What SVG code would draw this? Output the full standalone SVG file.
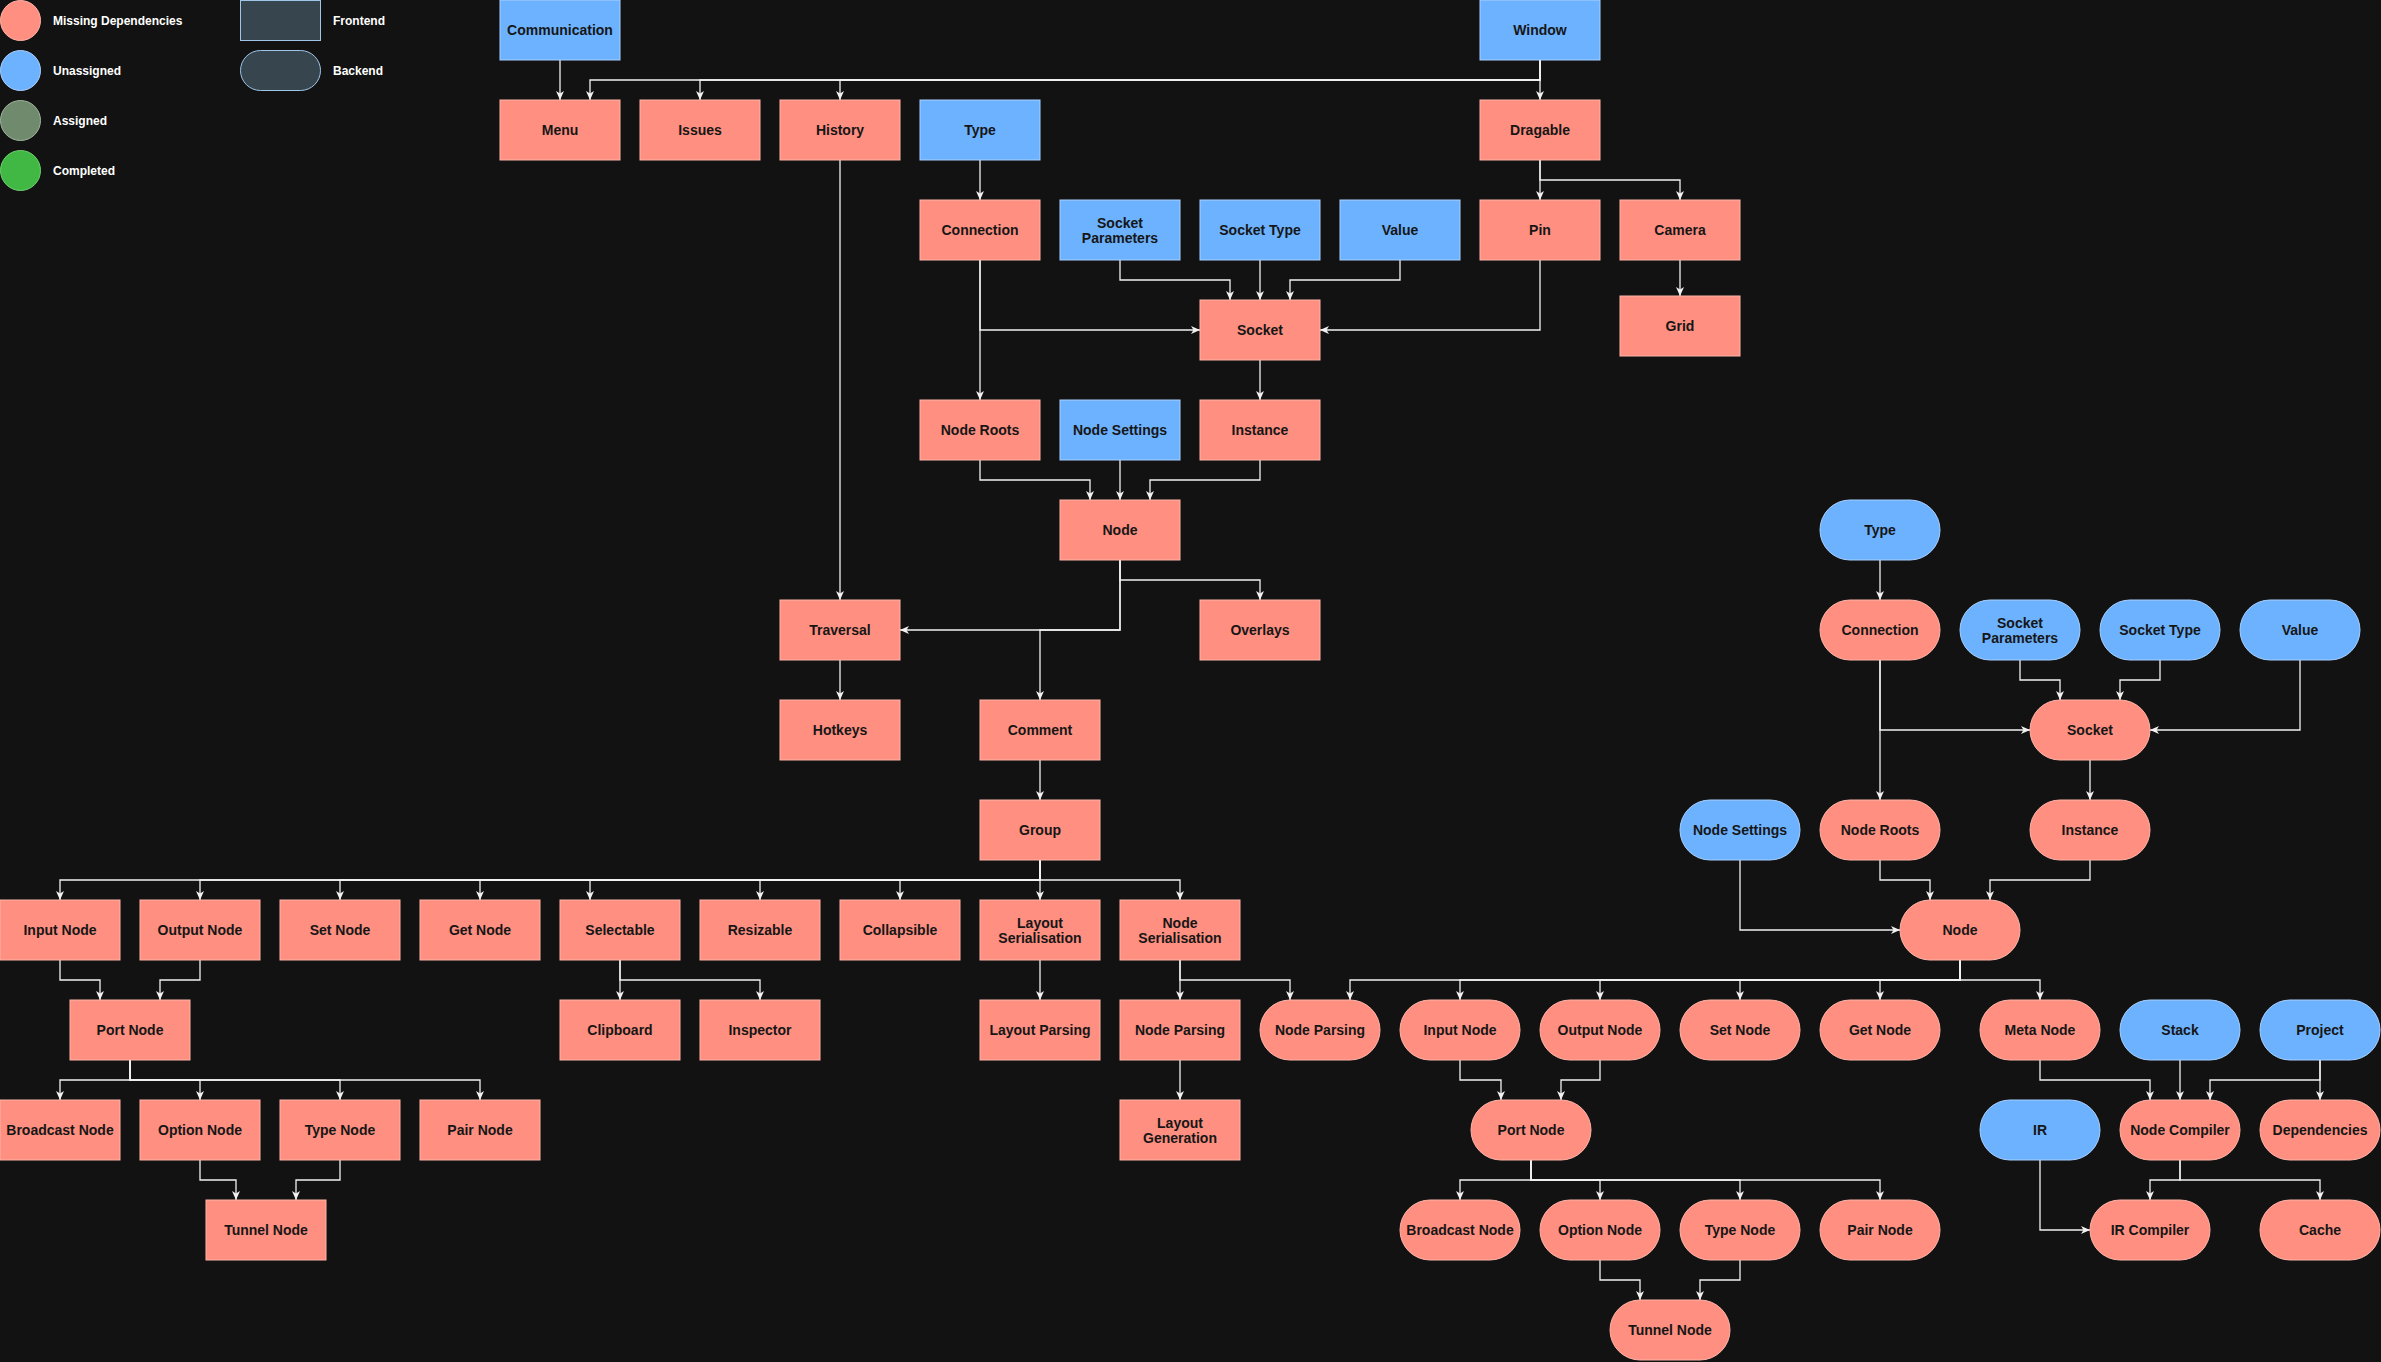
<svg xmlns="http://www.w3.org/2000/svg" width="2381" height="1362" viewBox="0 0 2381 1362">
<defs>
<style>
.bg{fill:#121212}
.m{fill:#ff8f80;stroke:#ffb4a8;stroke-width:1}
.u{fill:#6cb2ff;stroke:#a9d0ff;stroke-width:1}
.a{fill:#6f8a6c;stroke:#9fb59c;stroke-width:1}
.c{fill:#41b843;stroke:#6fd070;stroke-width:1}
.lg{fill:#37454f;stroke:#9fc5e8;stroke-width:1}
text{font-family:"Liberation Sans",Arial,sans-serif;font-weight:bold}
.t{font-size:14px;fill:#161616;text-anchor:middle}
.l{font-size:12px;fill:#ffffff}
.e{fill:none;stroke:#f2f2f2;stroke-width:1.3;marker-end:url(#arr)}
</style>
<marker id="arr" markerUnits="userSpaceOnUse" markerWidth="9" markerHeight="8" viewBox="0 0 9 8" refX="9" refY="4" orient="auto">
<path d="M0,0 L9,4 L0,8 L2.5,4 Z" fill="#f2f2f2"/>
</marker>
</defs>
<rect class="bg" x="0" y="0" width="2381" height="1362"/>

<g id="legend">
<circle class="m" cx="20.5" cy="20.5" r="20"/><text class="l" x="53" y="24.5">Missing Dependencies</text>
<circle class="u" cx="20.5" cy="70.5" r="20"/><text class="l" x="53" y="74.5">Unassigned</text>
<circle class="a" cx="20.5" cy="120.5" r="20"/><text class="l" x="53" y="124.5">Assigned</text>
<circle class="c" cx="20.5" cy="170.5" r="20"/><text class="l" x="53" y="174.5">Completed</text>
<rect class="lg" x="240.5" y="0.5" width="80" height="40"/><text class="l" x="333" y="24.5">Frontend</text>
<rect class="lg" x="240.5" y="50.5" width="80" height="40" rx="20"/><text class="l" x="333" y="74.5">Backend</text>
</g>

<g id="connectors">
<path class="e" d="M560,60 V100"/>
<path class="e" d="M1540,60 V80 H590 V100"/>
<path class="e" d="M1540,60 V80 H700 V100"/>
<path class="e" d="M1540,60 V80 H840 V100"/>
<path class="e" d="M1540,60 V100"/>
<path class="e" d="M980,160 V200"/>
<path class="e" d="M1540,160 V200"/>
<path class="e" d="M1540,160 V180 H1680 V200"/>
<path class="e" d="M1680,260 V296"/>
<path class="e" d="M980,260 V330 H1200"/>
<path class="e" d="M980,260 V400"/>
<path class="e" d="M1120,260 V280 H1230 V300"/>
<path class="e" d="M1260,260 V300"/>
<path class="e" d="M1400,260 V280 H1290 V300"/>
<path class="e" d="M1540,260 V330 H1320"/>
<path class="e" d="M1260,360 V400"/>
<path class="e" d="M980,460 V480 H1090 V500"/>
<path class="e" d="M1120,460 V500"/>
<path class="e" d="M1260,460 V480 H1150 V500"/>
<path class="e" d="M840,160 V600"/>
<path class="e" d="M1120,560 V580 H1260 V600"/>
<path class="e" d="M1120,560 V630 H900"/>
<path class="e" d="M1120,560 V630 H1040 V700"/>
<path class="e" d="M840,660 V700"/>
<path class="e" d="M1040,760 V800"/>
<path class="e" d="M1040,860 V880 H60 V900"/>
<path class="e" d="M1040,860 V880 H200 V900"/>
<path class="e" d="M1040,860 V880 H340 V900"/>
<path class="e" d="M1040,860 V880 H480 V900"/>
<path class="e" d="M1040,860 V880 H590 V900"/>
<path class="e" d="M1040,860 V880 H760 V900"/>
<path class="e" d="M1040,860 V880 H900 V900"/>
<path class="e" d="M1040,860 V900"/>
<path class="e" d="M1040,860 V880 H1180 V900"/>
<path class="e" d="M60,960 V980 H100 V1000"/>
<path class="e" d="M200,960 V980 H160 V1000"/>
<path class="e" d="M620,960 V1000"/>
<path class="e" d="M620,960 V980 H760 V1000"/>
<path class="e" d="M1040,960 V1000"/>
<path class="e" d="M1180,960 V1000"/>
<path class="e" d="M1180,960 V980 H1290 V1000"/>
<path class="e" d="M1180,1060 V1100"/>
<path class="e" d="M130,1060 V1080 H60 V1100"/>
<path class="e" d="M130,1060 V1080 H200 V1100"/>
<path class="e" d="M130,1060 V1080 H340 V1100"/>
<path class="e" d="M130,1060 V1080 H480 V1100"/>
<path class="e" d="M200,1160 V1180 H236 V1200"/>
<path class="e" d="M340,1160 V1180 H296 V1200"/>

<path class="e" d="M1880,560 V600"/>
<path class="e" d="M1880,660 V800"/>
<path class="e" d="M1880,660 V730 H2030"/>
<path class="e" d="M2020,660 V680 H2060 V700"/>
<path class="e" d="M2160,660 V680 H2120 V700"/>
<path class="e" d="M2300,660 V730 H2150"/>
<path class="e" d="M2090,760 V800"/>
<path class="e" d="M1880,860 V880 H1930 V900"/>
<path class="e" d="M2090,860 V880 H1990 V900"/>
<path class="e" d="M1740,860 V930 H1900"/>
<path class="e" d="M1960,960 V980 H1350 V1000"/>
<path class="e" d="M1960,960 V980 H1460 V1000"/>
<path class="e" d="M1960,960 V980 H1600 V1000"/>
<path class="e" d="M1960,960 V980 H1740 V1000"/>
<path class="e" d="M1960,960 V980 H1880 V1000"/>
<path class="e" d="M1960,960 V980 H2040 V1000"/>
<path class="e" d="M1460,1060 V1080 H1501 V1100"/>
<path class="e" d="M1600,1060 V1080 H1561 V1100"/>
<path class="e" d="M1531,1160 V1180 H1460 V1200"/>
<path class="e" d="M1531,1160 V1180 H1600 V1200"/>
<path class="e" d="M1531,1160 V1180 H1740 V1200"/>
<path class="e" d="M1531,1160 V1180 H1880 V1200"/>
<path class="e" d="M1600,1260 V1280 H1640 V1300"/>
<path class="e" d="M1740,1260 V1280 H1700 V1300"/>
<path class="e" d="M2040,1060 V1080 H2150 V1100"/>
<path class="e" d="M2180,1060 V1100"/>
<path class="e" d="M2320,1060 V1080 H2210 V1100"/>
<path class="e" d="M2320,1060 V1100"/>
<path class="e" d="M2040,1160 V1230 H2090"/>
<path class="e" d="M2180,1160 V1180 H2150 V1200"/>
<path class="e" d="M2180,1160 V1180 H2320 V1200"/>
</g>

<g id="fe-communication"><rect class="u" x="500" y="0" width="120" height="60"/><text class="t" x="560" y="35">Communication</text></g>
<g id="fe-window"><rect class="u" x="1480" y="0" width="120" height="60"/><text class="t" x="1540" y="35">Window</text></g>
<g id="fe-menu"><rect class="m" x="500" y="100" width="120" height="60"/><text class="t" x="560" y="135">Menu</text></g>
<g id="fe-issues"><rect class="m" x="640" y="100" width="120" height="60"/><text class="t" x="700" y="135">Issues</text></g>
<g id="fe-history"><rect class="m" x="780" y="100" width="120" height="60"/><text class="t" x="840" y="135">History</text></g>
<g id="fe-type"><rect class="u" x="920" y="100" width="120" height="60"/><text class="t" x="980" y="135">Type</text></g>
<g id="fe-dragable"><rect class="m" x="1480" y="100" width="120" height="60"/><text class="t" x="1540" y="135">Dragable</text></g>
<g id="fe-connection"><rect class="m" x="920" y="200" width="120" height="60"/><text class="t" x="980" y="235">Connection</text></g>
<g id="fe-socket-parameters"><rect class="u" x="1060" y="200" width="120" height="60"/><text class="t" x="1120" y="227.5">Socket</text><text class="t" x="1120" y="242.5">Parameters</text></g>
<g id="fe-socket-type"><rect class="u" x="1200" y="200" width="120" height="60"/><text class="t" x="1260" y="235">Socket Type</text></g>
<g id="fe-value"><rect class="u" x="1340" y="200" width="120" height="60"/><text class="t" x="1400" y="235">Value</text></g>
<g id="fe-pin"><rect class="m" x="1480" y="200" width="120" height="60"/><text class="t" x="1540" y="235">Pin</text></g>
<g id="fe-camera"><rect class="m" x="1620" y="200" width="120" height="60"/><text class="t" x="1680" y="235">Camera</text></g>
<g id="fe-grid"><rect class="m" x="1620" y="296" width="120" height="60"/><text class="t" x="1680" y="331">Grid</text></g>
<g id="fe-socket"><rect class="m" x="1200" y="300" width="120" height="60"/><text class="t" x="1260" y="335">Socket</text></g>
<g id="fe-node-roots"><rect class="m" x="920" y="400" width="120" height="60"/><text class="t" x="980" y="435">Node Roots</text></g>
<g id="fe-node-settings"><rect class="u" x="1060" y="400" width="120" height="60"/><text class="t" x="1120" y="435">Node Settings</text></g>
<g id="fe-instance"><rect class="m" x="1200" y="400" width="120" height="60"/><text class="t" x="1260" y="435">Instance</text></g>
<g id="fe-node"><rect class="m" x="1060" y="500" width="120" height="60"/><text class="t" x="1120" y="535">Node</text></g>
<g id="fe-traversal"><rect class="m" x="780" y="600" width="120" height="60"/><text class="t" x="840" y="635">Traversal</text></g>
<g id="fe-overlays"><rect class="m" x="1200" y="600" width="120" height="60"/><text class="t" x="1260" y="635">Overlays</text></g>
<g id="fe-hotkeys"><rect class="m" x="780" y="700" width="120" height="60"/><text class="t" x="840" y="735">Hotkeys</text></g>
<g id="fe-comment"><rect class="m" x="980" y="700" width="120" height="60"/><text class="t" x="1040" y="735">Comment</text></g>
<g id="fe-group"><rect class="m" x="980" y="800" width="120" height="60"/><text class="t" x="1040" y="835">Group</text></g>
<g id="fe-input-node"><rect class="m" x="0" y="900" width="120" height="60"/><text class="t" x="60" y="935">Input Node</text></g>
<g id="fe-output-node"><rect class="m" x="140" y="900" width="120" height="60"/><text class="t" x="200" y="935">Output Node</text></g>
<g id="fe-set-node"><rect class="m" x="280" y="900" width="120" height="60"/><text class="t" x="340" y="935">Set Node</text></g>
<g id="fe-get-node"><rect class="m" x="420" y="900" width="120" height="60"/><text class="t" x="480" y="935">Get Node</text></g>
<g id="fe-selectable"><rect class="m" x="560" y="900" width="120" height="60"/><text class="t" x="620" y="935">Selectable</text></g>
<g id="fe-resizable"><rect class="m" x="700" y="900" width="120" height="60"/><text class="t" x="760" y="935">Resizable</text></g>
<g id="fe-collapsible"><rect class="m" x="840" y="900" width="120" height="60"/><text class="t" x="900" y="935">Collapsible</text></g>
<g id="fe-layout-serialisation"><rect class="m" x="980" y="900" width="120" height="60"/><text class="t" x="1040" y="927.5">Layout</text><text class="t" x="1040" y="942.5">Serialisation</text></g>
<g id="fe-node-serialisation"><rect class="m" x="1120" y="900" width="120" height="60"/><text class="t" x="1180" y="927.5">Node</text><text class="t" x="1180" y="942.5">Serialisation</text></g>
<g id="fe-port-node"><rect class="m" x="70" y="1000" width="120" height="60"/><text class="t" x="130" y="1035">Port Node</text></g>
<g id="fe-clipboard"><rect class="m" x="560" y="1000" width="120" height="60"/><text class="t" x="620" y="1035">Clipboard</text></g>
<g id="fe-inspector"><rect class="m" x="700" y="1000" width="120" height="60"/><text class="t" x="760" y="1035">Inspector</text></g>
<g id="fe-layout-parsing"><rect class="m" x="980" y="1000" width="120" height="60"/><text class="t" x="1040" y="1035">Layout Parsing</text></g>
<g id="fe-node-parsing"><rect class="m" x="1120" y="1000" width="120" height="60"/><text class="t" x="1180" y="1035">Node Parsing</text></g>
<g id="fe-broadcast-node"><rect class="m" x="0" y="1100" width="120" height="60"/><text class="t" x="60" y="1135">Broadcast Node</text></g>
<g id="fe-option-node"><rect class="m" x="140" y="1100" width="120" height="60"/><text class="t" x="200" y="1135">Option Node</text></g>
<g id="fe-type-node"><rect class="m" x="280" y="1100" width="120" height="60"/><text class="t" x="340" y="1135">Type Node</text></g>
<g id="fe-pair-node"><rect class="m" x="420" y="1100" width="120" height="60"/><text class="t" x="480" y="1135">Pair Node</text></g>
<g id="fe-layout-generation"><rect class="m" x="1120" y="1100" width="120" height="60"/><text class="t" x="1180" y="1127.5">Layout</text><text class="t" x="1180" y="1142.5">Generation</text></g>
<g id="fe-tunnel-node"><rect class="m" x="206" y="1200" width="120" height="60"/><text class="t" x="266" y="1235">Tunnel Node</text></g>

<g id="be-type"><rect class="u" x="1820" y="500" width="120" height="60" rx="30"/><text class="t" x="1880" y="535">Type</text></g>
<g id="be-connection"><rect class="m" x="1820" y="600" width="120" height="60" rx="30"/><text class="t" x="1880" y="635">Connection</text></g>
<g id="be-socket-parameters"><rect class="u" x="1960" y="600" width="120" height="60" rx="30"/><text class="t" x="2020" y="627.5">Socket</text><text class="t" x="2020" y="642.5">Parameters</text></g>
<g id="be-socket-type"><rect class="u" x="2100" y="600" width="120" height="60" rx="30"/><text class="t" x="2160" y="635">Socket Type</text></g>
<g id="be-value"><rect class="u" x="2240" y="600" width="120" height="60" rx="30"/><text class="t" x="2300" y="635">Value</text></g>
<g id="be-socket"><rect class="m" x="2030" y="700" width="120" height="60" rx="30"/><text class="t" x="2090" y="735">Socket</text></g>
<g id="be-node-settings"><rect class="u" x="1680" y="800" width="120" height="60" rx="30"/><text class="t" x="1740" y="835">Node Settings</text></g>
<g id="be-node-roots"><rect class="m" x="1820" y="800" width="120" height="60" rx="30"/><text class="t" x="1880" y="835">Node Roots</text></g>
<g id="be-instance"><rect class="m" x="2030" y="800" width="120" height="60" rx="30"/><text class="t" x="2090" y="835">Instance</text></g>
<g id="be-node"><rect class="m" x="1900" y="900" width="120" height="60" rx="30"/><text class="t" x="1960" y="935">Node</text></g>
<g id="be-node-parsing"><rect class="m" x="1260" y="1000" width="120" height="60" rx="30"/><text class="t" x="1320" y="1035">Node Parsing</text></g>
<g id="be-input-node"><rect class="m" x="1400" y="1000" width="120" height="60" rx="30"/><text class="t" x="1460" y="1035">Input Node</text></g>
<g id="be-output-node"><rect class="m" x="1540" y="1000" width="120" height="60" rx="30"/><text class="t" x="1600" y="1035">Output Node</text></g>
<g id="be-set-node"><rect class="m" x="1680" y="1000" width="120" height="60" rx="30"/><text class="t" x="1740" y="1035">Set Node</text></g>
<g id="be-get-node"><rect class="m" x="1820" y="1000" width="120" height="60" rx="30"/><text class="t" x="1880" y="1035">Get Node</text></g>
<g id="be-meta-node"><rect class="m" x="1980" y="1000" width="120" height="60" rx="30"/><text class="t" x="2040" y="1035">Meta Node</text></g>
<g id="be-stack"><rect class="u" x="2120" y="1000" width="120" height="60" rx="30"/><text class="t" x="2180" y="1035">Stack</text></g>
<g id="be-project"><rect class="u" x="2260" y="1000" width="120" height="60" rx="30"/><text class="t" x="2320" y="1035">Project</text></g>
<g id="be-port-node"><rect class="m" x="1471" y="1100" width="120" height="60" rx="30"/><text class="t" x="1531" y="1135">Port Node</text></g>
<g id="be-ir"><rect class="u" x="1980" y="1100" width="120" height="60" rx="30"/><text class="t" x="2040" y="1135">IR</text></g>
<g id="be-node-compiler"><rect class="m" x="2120" y="1100" width="120" height="60" rx="30"/><text class="t" x="2180" y="1135">Node Compiler</text></g>
<g id="be-dependencies"><rect class="m" x="2260" y="1100" width="120" height="60" rx="30"/><text class="t" x="2320" y="1135">Dependencies</text></g>
<g id="be-broadcast-node"><rect class="m" x="1400" y="1200" width="120" height="60" rx="30"/><text class="t" x="1460" y="1235">Broadcast Node</text></g>
<g id="be-option-node"><rect class="m" x="1540" y="1200" width="120" height="60" rx="30"/><text class="t" x="1600" y="1235">Option Node</text></g>
<g id="be-type-node"><rect class="m" x="1680" y="1200" width="120" height="60" rx="30"/><text class="t" x="1740" y="1235">Type Node</text></g>
<g id="be-pair-node"><rect class="m" x="1820" y="1200" width="120" height="60" rx="30"/><text class="t" x="1880" y="1235">Pair Node</text></g>
<g id="be-ir-compiler"><rect class="m" x="2090" y="1200" width="120" height="60" rx="30"/><text class="t" x="2150" y="1235">IR Compiler</text></g>
<g id="be-cache"><rect class="m" x="2260" y="1200" width="120" height="60" rx="30"/><text class="t" x="2320" y="1235">Cache</text></g>
<g id="be-tunnel-node"><rect class="m" x="1610" y="1300" width="120" height="60" rx="30"/><text class="t" x="1670" y="1335">Tunnel Node</text></g>
</svg>
